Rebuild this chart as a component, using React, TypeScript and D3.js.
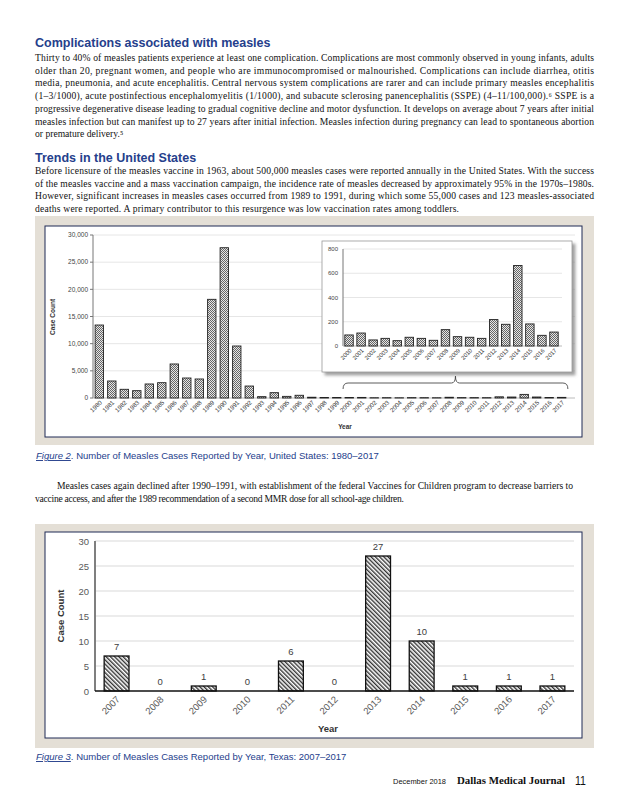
import React, { useEffect, useRef } from 'react';
import * as d3 from 'd3';

// Figure 2: United States, 1980-2017
const usYears = [
  '1980', '1981', '1982', '1983', '1984', '1985', '1986', '1987', '1988', '1989',
  '1990', '1991', '1992', '1993', '1994', '1995', '1996', '1997', '1998', '1999',
  '2000', '2001', '2002', '2003', '2004', '2005', '2006', '2007', '2008', '2009',
  '2010', '2011', '2012', '2013', '2014', '2015', '2016', '2017',
];
const usCases = [
  13430, 3130, 1600, 1350, 2580, 2820, 6260, 3680, 3500, 18160,
  27660, 9570, 2200, 250, 980, 300, 500, 140, 100, 100,
  91, 107, 50, 63, 44, 72, 63, 47, 135, 77,
  72, 63, 218, 179, 664, 182, 88, 115,
];
const usTicks = [0, 5000, 10000, 15000, 20000, 25000, 30000];
const insetTicks = [0, 200, 400, 600, 800];
const insetFrom = '2000';

// Figure 3: Texas, 2007-2017
const txYears = ['2007', '2008', '2009', '2010', '2011', '2012', '2013', '2014', '2015', '2016', '2017'];
const txCases = [7, 0, 1, 0, 6, 0, 27, 10, 1, 1, 1];
const txTicks = [0, 5, 10, 15, 20, 25, 30];

const para1 = [
  'Thirty to 40% of measles patients experience at least one complication. Complications are most commonly observed in young infants, adults',
  'older than 20, pregnant women, and people who are immunocompromised or malnourished. Complications can include diarrhea, otitis',
  'media, pneumonia, and acute encephalitis. Central nervous system complications are rarer and can include primary measles encephalitis',
  '(1–3/1000), acute postinfectious encephalomyelitis (1/1000), and subacute sclerosing panencephalitis (SSPE) (4–11/100,000).⁶ SSPE is a',
  'progressive degenerative disease leading to gradual cognitive decline and motor dysfunction. It develops on average about 7 years after initial',
  'measles infection but can manifest up to 27 years after initial infection. Measles infection during pregnancy can lead to spontaneous abortion',
  'or premature delivery.⁵',
];
const para2 = [
  'Before licensure of the measles vaccine in 1963, about 500,000 measles cases were reported annually in the United States. With the success',
  'of the measles vaccine and a mass vaccination campaign, the incidence rate of measles decreased by approximately 95% in the 1970s–1980s.',
  'However, significant increases in measles cases occurred from 1989 to 1991, during which some 55,000 cases and 123 measles-associated',
  'deaths were reported. A primary contributor to this resurgence was low vaccination rates among toddlers.',
];
const para3 = [
  'Measles cases again declined after 1990–1991, with establishment of the federal Vaccines for Children program to decrease barriers to',
  'vaccine access, and after the 1989 recommendation of a second MMR dose for all school-age children.',
];

const BLUE = '#25408c';
const BEIGE = '#e4dfd6';
const SERIF = '"Liberation Serif", "Times New Roman", serif';
const SANS = '"Liberation Sans", Arial, sans-serif';

const App: React.FC = () => {
  const chartRef = useRef<SVGSVGElement>(null);

  useEffect(() => {
    const svg = d3.select(chartRef.current);
    svg.selectAll('*').remove();

    const defs = svg.append('defs');
    const dots = defs
      .append('pattern')
      .attr('id', 'dots')
      .attr('width', 2)
      .attr('height', 2)
      .attr('patternUnits', 'userSpaceOnUse');
    dots.append('rect').attr('width', 2).attr('height', 2).attr('fill', '#e6e6e6');
    dots.append('rect').attr('width', 1).attr('height', 1).attr('fill', '#666');
    dots.append('rect').attr('x', 1).attr('y', 1).attr('width', 1).attr('height', 1).attr('fill', '#666');

    const hatch = defs
      .append('pattern')
      .attr('id', 'hatch')
      .attr('width', 3)
      .attr('height', 3)
      .attr('patternUnits', 'userSpaceOnUse')
      .attr('patternTransform', 'rotate(-45)');
    hatch.append('rect').attr('width', 3).attr('height', 3).attr('fill', '#fff');
    hatch
      .append('line')
      .attr('x1', 0.7).attr('y1', 0).attr('x2', 0.7).attr('y2', 3)
      .attr('stroke', '#333')
      .attr('stroke-width', 1.4);

    const shadow = defs.append('filter').attr('id', 'shadow').attr('x', '-10%').attr('y', '-10%').attr('width', '130%').attr('height', '130%');
    shadow.append('feDropShadow').attr('dx', 3).attr('dy', 3).attr('stdDeviation', 1.5).attr('flood-color', '#888').attr('flood-opacity', 0.8);

    // ---- body text ----
    const left = 35;
    const right = 594;

    const heading = (label: string, y: number) =>
      svg.append('text')
        .attr('x', left).attr('y', y)
        .attr('font-family', SANS).attr('font-weight', 'bold')
        .attr('font-size', 12.5).attr('fill', BLUE)
        .text(label);

    const paragraph = (lines: string[], y0: number, widths: (number | null)[], indent = 0) => {
      lines.forEach((line, i) => {
        const t = svg.append('text')
          .attr('x', left + (i === 0 ? indent : 0))
          .attr('y', y0 + i * 12.7)
          .attr('font-family', SERIF)
          .attr('font-size', 9.6)
          .attr('fill', '#111')
          .text(line);
        const w = widths[i];
        if (w) t.attr('textLength', w).attr('lengthAdjust', 'spacing');
      });
    };

    heading('Complications associated with measles', 47);
    paragraph(para1, 61, [559, 559, 559, 559, 559, 559, null]);
    heading('Trends in the United States', 162);
    paragraph(para2, 174, [559, 559, 559, 424]);

    // ---- Figure 2 ----
    svg.append('rect').attr('x', left).attr('y', 216).attr('width', right - left).attr('height', 229).attr('fill', BEIGE);
    svg.append('rect').attr('x', 45).attr('y', 226).attr('width', 537).attr('height', 211)
      .attr('fill', '#fff').attr('stroke', '#1f2a55').attr('stroke-width', 1);

    const x2 = d3.scaleBand().domain(usYears).range([93, 568]).paddingInner(0.33).paddingOuter(0.17);
    const y2 = d3.scaleLinear().domain([0, 30000]).range([398, 235]);

    const g2 = svg.append('g');
    g2.selectAll('.grid')
      .data(usTicks.slice(1))
      .join('line')
      .attr('x1', 93).attr('x2', 575)
      .attr('y1', (d) => y2(d)).attr('y2', (d) => y2(d))
      .attr('stroke', '#e6e6e6');
    g2.append('line').attr('x1', 93).attr('x2', 93).attr('y1', 235).attr('y2', 398).attr('stroke', '#777');
    g2.append('line').attr('x1', 93).attr('x2', 575).attr('y1', 398).attr('y2', 398).attr('stroke', '#bbb');
    g2.selectAll('.tick')
      .data(usTicks)
      .join('line')
      .attr('x1', 90).attr('x2', 93)
      .attr('y1', (d) => y2(d)).attr('y2', (d) => y2(d))
      .attr('stroke', '#777');
    g2.selectAll('.ylab')
      .data(usTicks)
      .join('text')
      .attr('x', 88).attr('y', (d) => y2(d) + 2.3)
      .attr('text-anchor', 'end')
      .attr('font-family', SANS).attr('font-size', 6.5).attr('fill', '#444')
      .text((d) => d3.format(',')(d));
    g2.selectAll('.bar')
      .data(usCases)
      .join('rect')
      .attr('x', (d, i) => x2(usYears[i]) as number)
      .attr('y', (d) => y2(d))
      .attr('width', x2.bandwidth())
      .attr('height', (d) => 398 - y2(d))
      .attr('fill', 'url(#dots)')
      .attr('stroke', '#222')
      .attr('stroke-width', 0.9);
    g2.selectAll('.xlab')
      .data(usYears)
      .join('text')
      .attr('transform', (d) => `translate(${(x2(d) as number) + x2.bandwidth() / 2 + 3},${403}) rotate(-45)`)
      .attr('text-anchor', 'end')
      .attr('font-family', SANS).attr('font-size', 6.2).attr('fill', '#333')
      .text((d) => d);
    g2.append('text')
      .attr('x', 345).attr('y', 429)
      .attr('text-anchor', 'middle')
      .attr('font-family', SANS).attr('font-weight', 'bold').attr('font-size', 6.5).attr('fill', '#333')
      .text('Year');
    g2.append('text')
      .attr('transform', 'translate(55,317) rotate(-90)')
      .attr('text-anchor', 'middle')
      .attr('font-family', SANS).attr('font-weight', 'bold').attr('font-size', 6.5).attr('fill', '#333')
      .text('Case Count');

    // bracket over the recent years
    const bx0 = (x2(insetFrom) as number) - 2;
    const bx1 = (x2(usYears[usYears.length - 1]) as number) + x2.bandwidth() + 2;
    const bm = (bx0 + bx1) / 2;
    g2.append('path')
      .attr('d', `M${bx0},389 Q${bx0},383 ${bx0 + 5},383 L${bm - 4},383 Q${bm},383 ${bm},376 Q${bm},383 ${bm + 4},383 L${bx1 - 5},383 Q${bx1},383 ${bx1},389`)
      .attr('fill', 'none')
      .attr('stroke', '#333')
      .attr('stroke-width', 0.8);

    // inset
    const recentYears = usYears.slice(usYears.indexOf(insetFrom));
    const recentCases = usCases.slice(usYears.indexOf(insetFrom));
    const xi = d3.scaleBand().domain(recentYears).range([343, 560]).paddingInner(0.3).paddingOuter(0.15);
    const yi = d3.scaleLinear().domain([0, 800]).range([346, 249]);
    const gi = svg.append('g');
    gi.append('rect').attr('x', 322).attr('y', 241).attr('width', 250).attr('height', 131)
      .attr('fill', '#fff').attr('stroke', '#999').attr('stroke-width', 0.8).attr('filter', 'url(#shadow)');
    gi.selectAll('.grid')
      .data(insetTicks.slice(1))
      .join('line')
      .attr('x1', 343).attr('x2', 562)
      .attr('y1', (d) => yi(d)).attr('y2', (d) => yi(d))
      .attr('stroke', '#e6e6e6');
    gi.append('line').attr('x1', 343).attr('x2', 343).attr('y1', 249).attr('y2', 346).attr('stroke', '#777');
    gi.append('line').attr('x1', 343).attr('x2', 562).attr('y1', 346).attr('y2', 346).attr('stroke', '#bbb');
    gi.selectAll('.ylab')
      .data(insetTicks)
      .join('text')
      .attr('x', 338).attr('y', (d) => yi(d) + 2.2)
      .attr('text-anchor', 'end')
      .attr('font-family', SANS).attr('font-size', 6).attr('fill', '#444')
      .text((d) => d);
    gi.selectAll('.bar')
      .data(recentCases)
      .join('rect')
      .attr('x', (d, i) => xi(recentYears[i]) as number)
      .attr('y', (d) => yi(d))
      .attr('width', xi.bandwidth())
      .attr('height', (d) => 346 - yi(d))
      .attr('fill', 'url(#dots)')
      .attr('stroke', '#222')
      .attr('stroke-width', 0.9);
    gi.selectAll('.xlab')
      .data(recentYears)
      .join('text')
      .attr('transform', (d) => `translate(${(xi(d) as number) + xi.bandwidth() / 2 + 3},${351}) rotate(-45)`)
      .attr('text-anchor', 'end')
      .attr('font-family', SANS).attr('font-size', 5.8).attr('fill', '#333')
      .text((d) => d);

    const caption = (num: string, rest: string, y: number) => {
      const t = svg.append('text')
        .attr('x', 36).attr('y', y)
        .attr('font-family', SANS).attr('font-size', 9.5).attr('fill', BLUE);
      t.append('tspan').attr('font-style', 'italic').attr('text-decoration', 'underline').text(num);
      t.append('tspan').text(rest);
    };
    caption('Figure 2', '. Number of Measles Cases Reported by Year, United States: 1980–2017', 459);

    paragraph(para3, 489, [516, 369], 22);

    // ---- Figure 3 ----
    svg.append('rect').attr('x', left).attr('y', 524).attr('width', right - left).attr('height', 224).attr('fill', BEIGE);
    svg.append('rect').attr('x', 45).attr('y', 532).attr('width', 537).attr('height', 206)
      .attr('fill', '#fff').attr('stroke', '#1f2a55').attr('stroke-width', 1);

    const x3 = d3.scaleBand().domain(txYears).range([95, 574]).paddingInner(0.43).paddingOuter(0.21);
    const y3 = d3.scaleLinear().domain([0, 30]).range([691, 541]);
    const g3 = svg.append('g');
    g3.selectAll('.grid')
      .data(txTicks.slice(1))
      .join('line')
      .attr('x1', 95).attr('x2', 574)
      .attr('y1', (d) => y3(d)).attr('y2', (d) => y3(d))
      .attr('stroke', '#d9d9d9');
    g3.selectAll('.ylab')
      .data(txTicks)
      .join('text')
      .attr('x', 89).attr('y', (d) => y3(d) + 3.5)
      .attr('text-anchor', 'end')
      .attr('font-family', SANS).attr('font-size', 9.5).attr('fill', '#595959')
      .text((d) => d);
    g3.selectAll('.bar')
      .data(txCases)
      .join('rect')
      .attr('x', (d, i) => x3(txYears[i]) as number)
      .attr('y', (d) => y3(d))
      .attr('width', x3.bandwidth())
      .attr('height', (d) => 691 - y3(d))
      .attr('fill', 'url(#hatch)')
      .attr('stroke', '#111')
      .attr('stroke-width', 1.3);
    g3.append('line').attr('x1', 95).attr('x2', 95).attr('y1', 541).attr('y2', 691).attr('stroke', '#7f7f7f').attr('stroke-width', 2);
    g3.append('line').attr('x1', 95).attr('x2', 574).attr('y1', 691).attr('y2', 691).attr('stroke', '#111').attr('stroke-width', 1.3);
    g3.selectAll('.vlab')
      .data(txCases)
      .join('text')
      .attr('x', (d, i) => (x3(txYears[i]) as number) + x3.bandwidth() / 2)
      .attr('y', (d) => y3(d) - 6)
      .attr('text-anchor', 'middle')
      .attr('font-family', SANS).attr('font-size', 9.5).attr('fill', '#404040')
      .text((d) => d);
    g3.selectAll('.xlab')
      .data(txYears)
      .join('text')
      .attr('transform', (d) => `translate(${(x3(d) as number) + x3.bandwidth() / 2 + 4},${700}) rotate(-45)`)
      .attr('text-anchor', 'end')
      .attr('font-family', SANS).attr('font-size', 9.5).attr('fill', '#595959')
      .text((d) => d);
    g3.append('text')
      .attr('x', 328).attr('y', 732)
      .attr('text-anchor', 'middle')
      .attr('font-family', SANS).attr('font-weight', 'bold').attr('font-size', 9.5).attr('fill', '#333')
      .text('Year');
    g3.append('text')
      .attr('transform', 'translate(64,616) rotate(-90)')
      .attr('text-anchor', 'middle')
      .attr('font-family', SANS).attr('font-weight', 'bold').attr('font-size', 9.5).attr('fill', '#333')
      .text('Case Count');

    caption('Figure 3', '. Number of Measles Cases Reported by Year, Texas: 2007–2017', 760);

    // ---- footer ----
    svg.append('text')
      .attr('x', 393).attr('y', 784)
      .attr('font-family', SANS).attr('font-size', 8).attr('fill', '#111')
      .attr('textLength', 53).attr('lengthAdjust', 'spacingAndGlyphs')
      .text('December 2018');
    svg.append('text')
      .attr('x', 457).attr('y', 784)
      .attr('font-family', SERIF).attr('font-weight', 'bold').attr('font-size', 11).attr('fill', '#111')
      .attr('textLength', 108).attr('lengthAdjust', 'spacingAndGlyphs')
      .text('Dallas Medical Journal');
    svg.append('text')
      .attr('x', 575).attr('y', 785)
      .attr('font-family', SANS).attr('font-size', 12).attr('fill', '#111')
      .attr('textLength', 11).attr('lengthAdjust', 'spacingAndGlyphs')
      .text('11');
  }, []);

  return (
    <svg
      ref={chartRef}
      width={625}
      height={808}
      style={{ position: 'absolute', left: 0, top: 0, background: '#fff' }}
    ></svg>
  );
};

export default App;
